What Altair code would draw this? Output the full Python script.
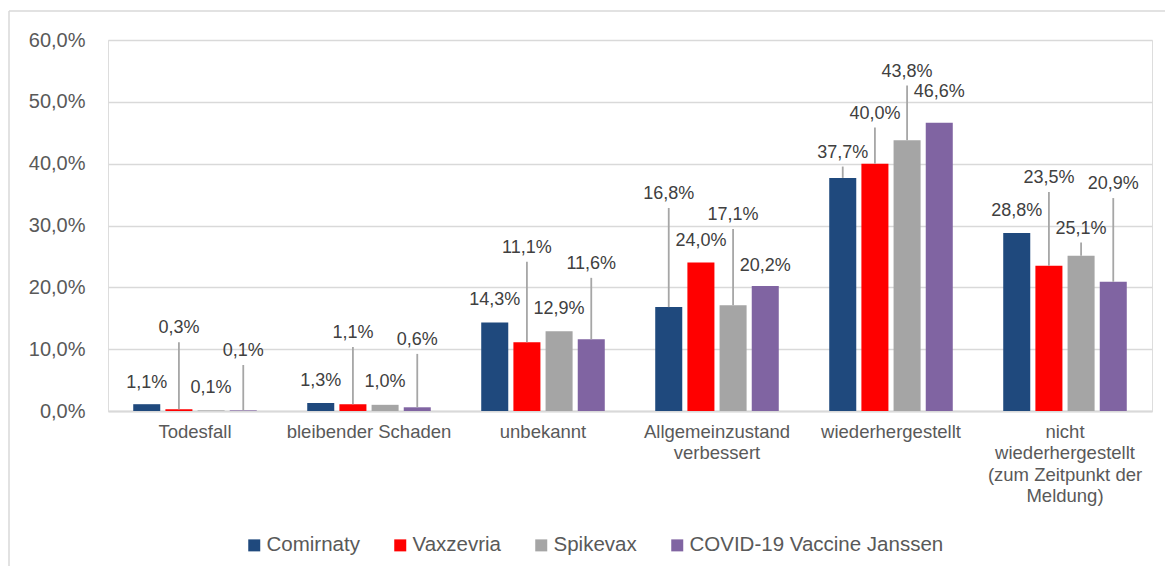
import altair as alt
import pandas as pd

categories = ["Todesfall", "bleibender Schaden", "unbekannt",
              "Allgemeinzustand verbessert", "wiederhergestellt",
              "nicht wiederhergestellt (zum Zeitpunkt der Meldung)"]
category_lines = [["Todesfall"], ["bleibender Schaden"], ["unbekannt"],
                  ["Allgemeinzustand", "verbessert"], ["wiederhergestellt"],
                  ["nicht", "wiederhergestellt", "(zum Zeitpunkt der", "Meldung)"]]
series = ["Comirnaty", "Vaxzevria", "Spikevax", "COVID-19 Vaccine Janssen"]
colors = ["#1F497D", "#FF0000", "#A5A5A5", "#8064A2"]

comirnaty = [1.1, 1.3, 14.3, 16.8, 37.7, 28.8]
vaxzevria = [0.3, 1.1, 11.1, 24.0, 40.0, 23.5]
spikevax = [0.1, 1.0, 12.9, 17.1, 43.8, 25.1]
janssen = [0.1, 0.6, 11.6, 20.2, 46.6, 20.9]

# label anchor heights (in % units) as placed in the original
label_comirnaty = [4.5, 4.9, 18.0, 35.1, 41.8, 32.4]
label_vaxzevria = [13.4, 12.6, 26.4, 27.5, 48.1, 37.7]
label_spikevax = [3.7, 4.7, 16.5, 31.7, 54.9, 29.5]
label_janssen = [9.7, 11.5, 23.8, 23.5, 51.6, 36.7]

leader_comirnaty = [False, False, False, True, True, False]
leader_vaxzevria = [True, True, True, False, True, True]
leader_spikevax = [False, False, False, True, True, True]
leader_janssen = [True, True, True, False, False, True]

values = [comirnaty, vaxzevria, spikevax, janssen]
labels = [label_comirnaty, label_vaxzevria, label_spikevax, label_janssen]
leaders = [leader_comirnaty, leader_vaxzevria, leader_spikevax, leader_janssen]

rows = []
for s, vals, labs, leads in zip(series, values, labels, leaders):
    for c, v, l, ld in zip(categories, vals, labs, leads):
        rows.append({"Kategorie": c, "Impfstoff": s, "Wert": v,
                     "LabelY": l, "Leader": ld})
df = pd.DataFrame(rows)

label_expr = "".join(
    f"datum.value == '{c}' ? {lines!r} : " for c, lines in zip(categories, category_lines)
) + "datum.value"

FONT = "Liberation Sans"

x_enc = alt.X("Kategorie:N", sort=categories,
              scale=alt.Scale(paddingInner=0.29, paddingOuter=0.145),
              axis=alt.Axis(title=None, labelAngle=0, ticks=False,
                            domainColor="#D9D9D9", domainWidth=2,
                            labelColor="#595959", labelFontSize=18.5,
                            labelFont=FONT, labelPadding=11,
                            labelLineHeight=21.5, labelBaseline="top",
                            labelLimit=0, labelExpr=label_expr))
xoff = alt.XOffset("Impfstoff:N", sort=series,
                   scale=alt.Scale(paddingInner=0.16, paddingOuter=0))
color = alt.Color("Impfstoff:N", sort=series,
                  scale=alt.Scale(domain=series, range=colors),
                  legend=alt.Legend(title=None, orient="none", direction="horizontal",
                                    legendX=136, legendY=495,
                                    symbolType="square", symbolSize=144,
                                    symbolStrokeWidth=0, symbolOpacity=1,
                                    labelFont=FONT, labelFontSize=20.5,
                                    labelColor="#595959", labelOffset=2,
                                    labelLimit=0, columnPadding=30))

base = alt.Chart(df)

bars = base.mark_bar(opacity=1).encode(
    x=x_enc, xOffset=xoff,
    y=alt.Y("Wert:Q", scale=alt.Scale(domain=[0, 60]),
            axis=alt.Axis(title=None, values=[0, 10, 20, 30, 40, 50, 60],
                          labelExpr="replace(format(datum.value, '.1f'), '.', ',') + '%'",
                          labelColor="#595959", labelFontSize=20, labelFont=FONT,
                          labelPadding=23, ticks=False, domain=False,
                          gridColor="#D9D9D9", gridWidth=1.5)),
    color=color,
)

leader = base.transform_filter("datum.Leader").mark_rule(
    color="#A6A6A6", strokeWidth=1.8, yOffset=14
).encode(
    x=alt.X("Kategorie:N", sort=categories), xOffset=xoff,
    y="LabelY:Q", y2="Wert:Q",
)

text = base.transform_calculate(
    txt="replace(format(datum.Wert, '.1f'), '.', ',') + '%'"
).mark_text(font=FONT, fontSize=18, color="#404040", baseline="middle").encode(
    x=alt.X("Kategorie:N", sort=categories), xOffset=xoff,
    y="LabelY:Q", text="txt:N",
)

frame_left = alt.Chart(pd.DataFrame({"k": [0]})).mark_rule(
    color="#D9D9D9", strokeWidth=1.5).encode(
    x=alt.value(-99), y=alt.value(-29), y2=alt.value(600))
frame_top = alt.Chart(pd.DataFrame({"k": [0]})).mark_rule(
    color="#D9D9D9", strokeWidth=1.5).encode(
    x=alt.value(-99), x2=alt.value(1100), y=alt.value(-29))

chart = alt.layer(bars, leader, text, frame_left, frame_top).properties(
    width=1044, height=371,
    autosize=alt.AutoSizeParams(type="none"),
    padding={"left": 100, "top": 32, "right": 13, "bottom": 155},
).configure_view(stroke=None).configure(background="white")

chart.save("out.html", embed_options={"renderer": "svg", "actions": False})
